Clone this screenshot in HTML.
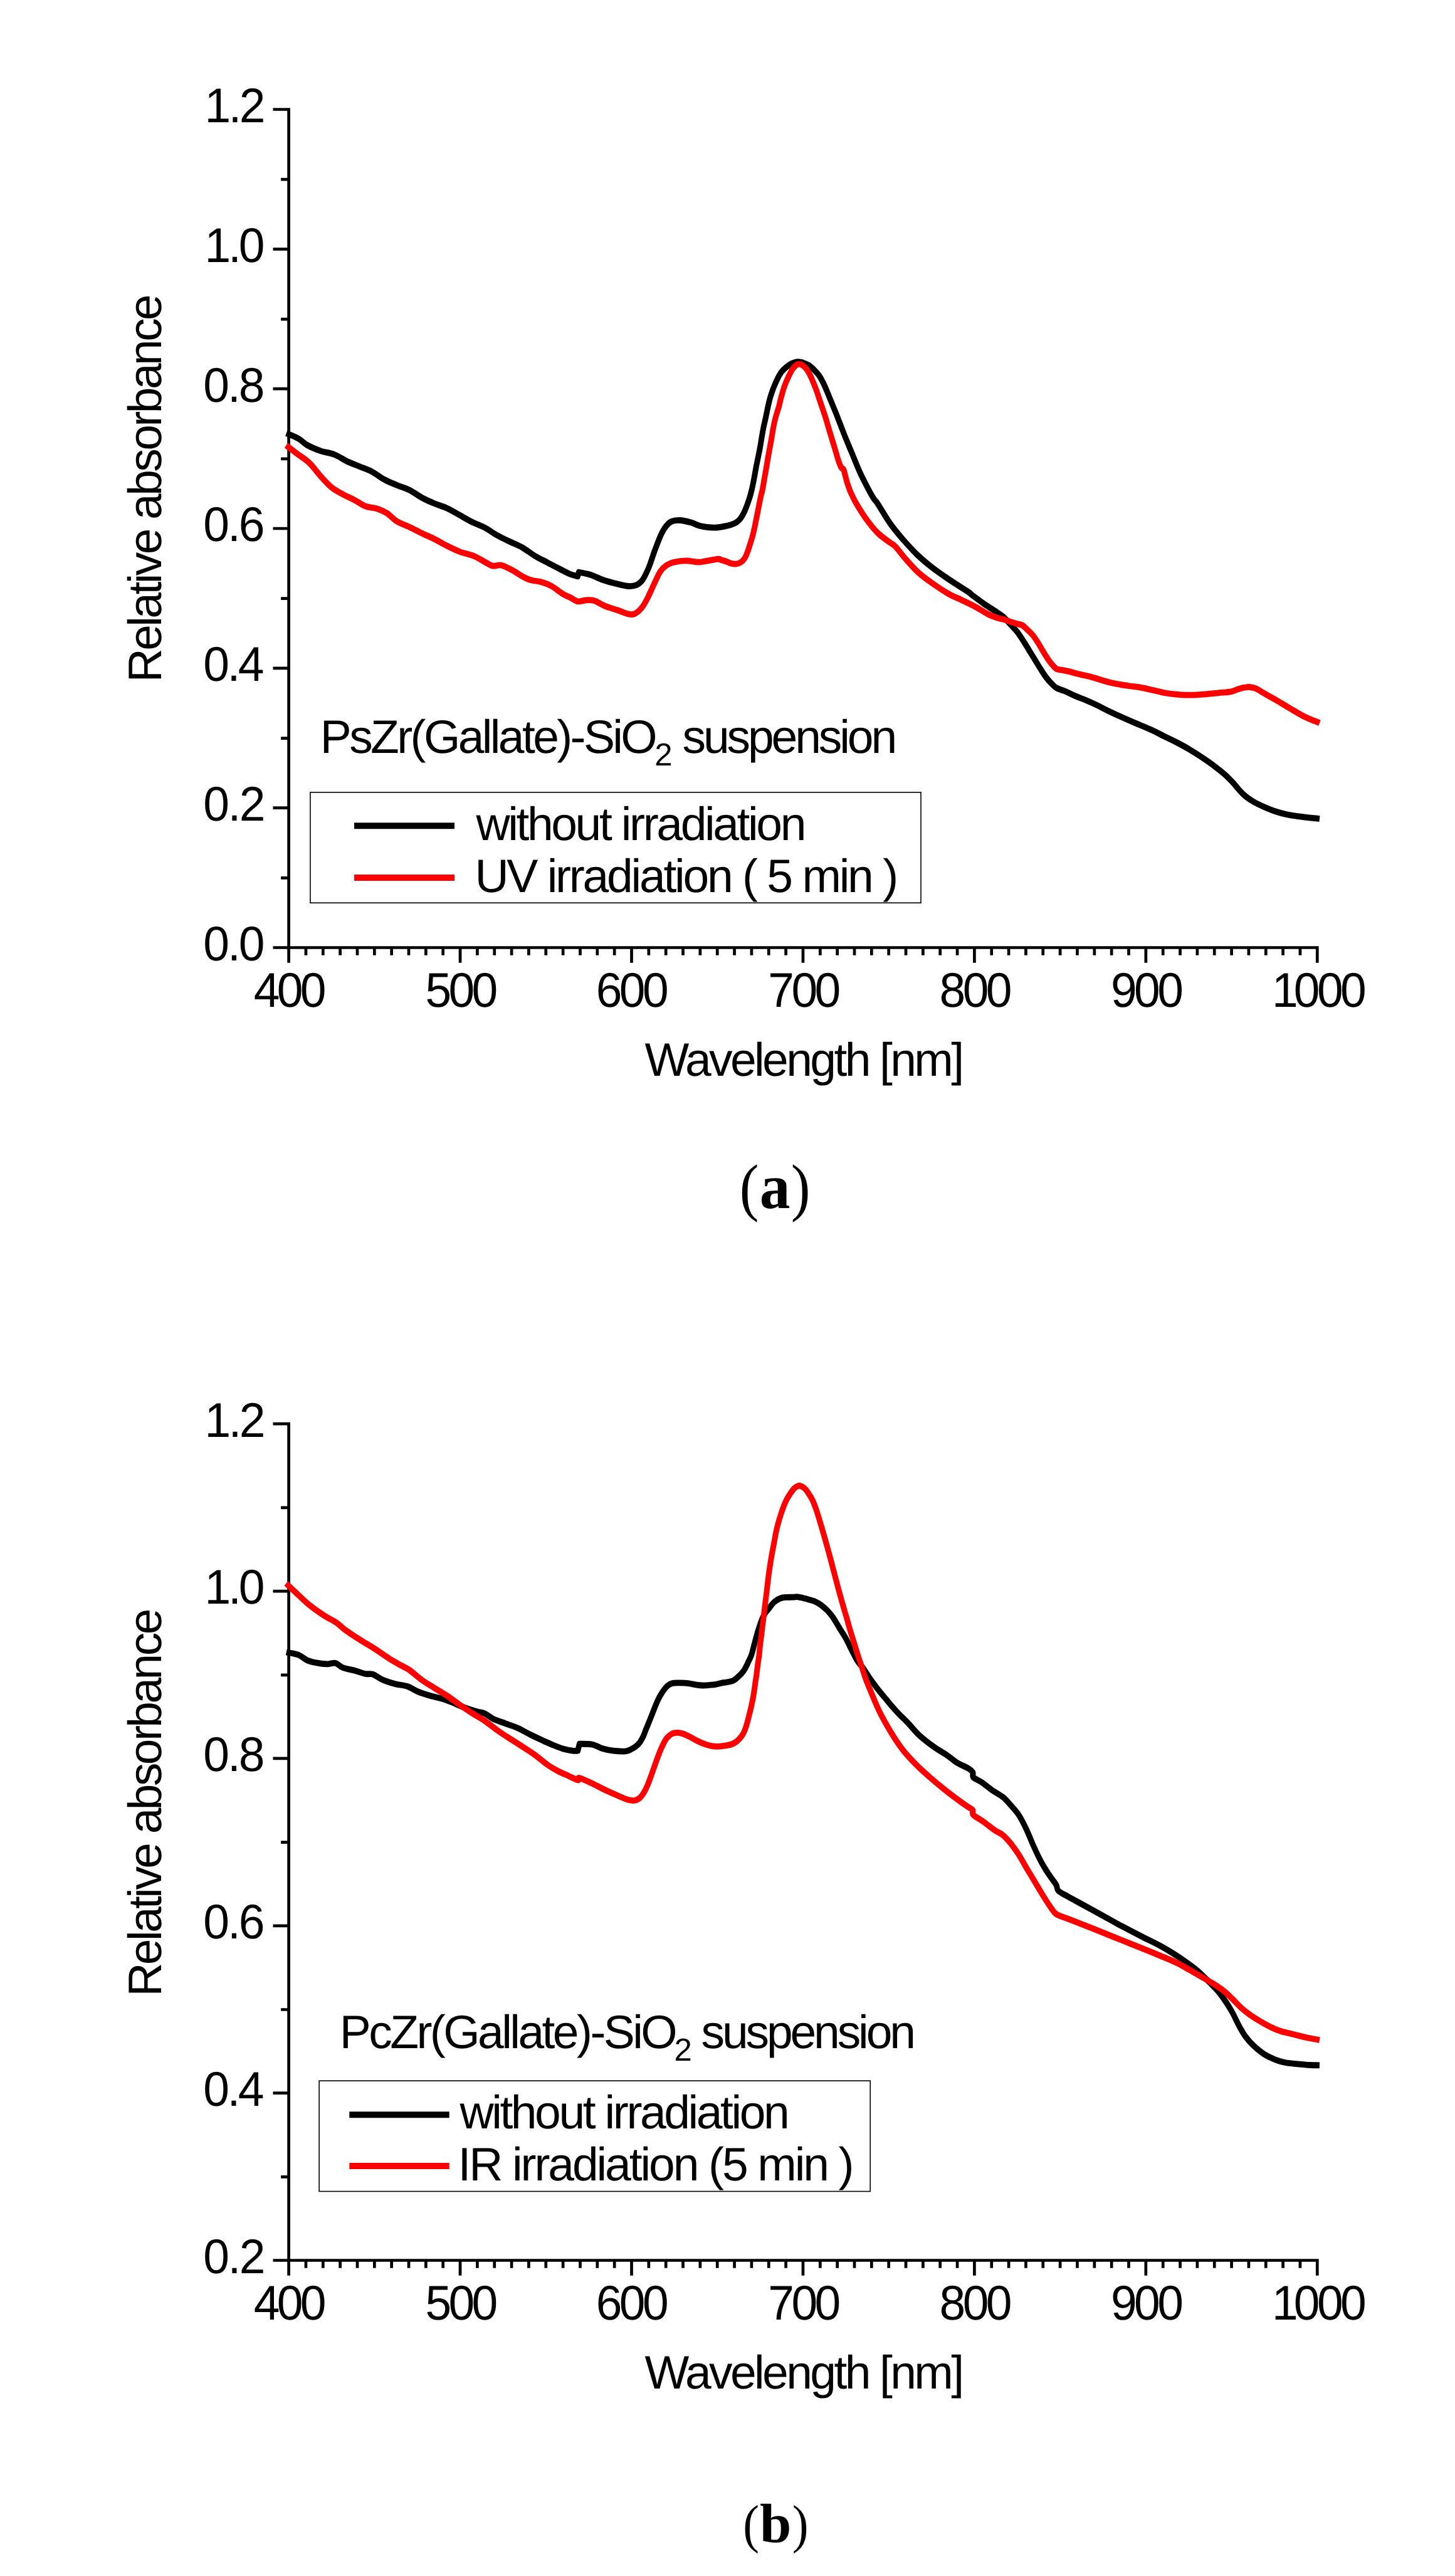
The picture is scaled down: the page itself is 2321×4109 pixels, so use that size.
<!DOCTYPE html>
<html lang="en"><head><meta charset="utf-8"><title>Relative absorbance spectra</title>
<style>
html,body{margin:0;padding:0;background:#fff}
svg{display:block}
text{font-family:"Liberation Sans",sans-serif;font-size:75px;fill:#000;white-space:pre;text-rendering:geometricPrecision}
</style></head><body>
<svg width="2321" height="4109" viewBox="0 0 2321 4109">
<rect width="2321" height="4109" fill="#fff"/>
<path d="M460.60 172.15V1535.80M435.50 1511.50H2103.65M435.50 174.50H460.60M448.10 286.22H460.60M435.50 397.33H460.60M448.10 509.05H460.60M435.50 620.17H460.60M448.10 731.88H460.60M435.50 843.00H460.60M448.10 954.72H460.60M435.50 1065.83H460.60M448.10 1177.55H460.60M435.50 1288.67H460.60M448.10 1400.38H460.60M487.95 1511.50V1523.80M515.29 1511.50V1523.80M542.63 1511.50V1523.80M569.98 1511.50V1523.80M597.33 1511.50V1523.80M624.67 1511.50V1523.80M652.02 1511.50V1523.80M679.36 1511.50V1523.80M706.71 1511.50V1523.80M734.05 1511.50V1535.80M761.40 1511.50V1523.80M788.74 1511.50V1523.80M816.09 1511.50V1523.80M843.43 1511.50V1523.80M870.78 1511.50V1523.80M898.12 1511.50V1523.80M925.47 1511.50V1523.80M952.81 1511.50V1523.80M980.16 1511.50V1523.80M1007.50 1511.50V1535.80M1034.85 1511.50V1523.80M1062.19 1511.50V1523.80M1089.54 1511.50V1523.80M1116.88 1511.50V1523.80M1144.23 1511.50V1523.80M1171.57 1511.50V1523.80M1198.91 1511.50V1523.80M1226.26 1511.50V1523.80M1253.61 1511.50V1523.80M1280.95 1511.50V1535.80M1308.30 1511.50V1523.80M1335.64 1511.50V1523.80M1362.99 1511.50V1523.80M1390.33 1511.50V1523.80M1417.68 1511.50V1523.80M1445.02 1511.50V1523.80M1472.37 1511.50V1523.80M1499.71 1511.50V1523.80M1527.06 1511.50V1523.80M1554.40 1511.50V1535.80M1581.75 1511.50V1523.80M1609.09 1511.50V1523.80M1636.44 1511.50V1523.80M1663.78 1511.50V1523.80M1691.12 1511.50V1523.80M1718.47 1511.50V1523.80M1745.82 1511.50V1523.80M1773.16 1511.50V1523.80M1800.51 1511.50V1523.80M1827.85 1511.50V1535.80M1855.20 1511.50V1523.80M1882.54 1511.50V1523.80M1909.89 1511.50V1523.80M1937.23 1511.50V1523.80M1964.58 1511.50V1523.80M1991.92 1511.50V1523.80M2019.27 1511.50V1523.80M2046.61 1511.50V1523.80M2073.96 1511.50V1523.80M2101.30 1511.50V1535.80" fill="none" stroke="#000" stroke-width="4.70"/>
<text id="ay0" transform="translate(326.60 194.90) scale(1 1.035)" style="letter-spacing:-3.700px">1.2</text>
<text id="ay1" transform="translate(326.60 417.73) scale(1 1.035)" style="letter-spacing:-4.200px">1.0</text>
<text id="ay2" transform="translate(324.20 640.57) scale(1 1.035)" style="letter-spacing:-3.000px">0.8</text>
<text id="ay3" transform="translate(324.20 863.40) scale(1 1.035)" style="letter-spacing:-3.000px">0.6</text>
<text id="ay4" transform="translate(324.20 1086.23) scale(1 1.035)" style="letter-spacing:-3.500px">0.4</text>
<text id="ay5" transform="translate(324.20 1309.07) scale(1 1.035)" style="letter-spacing:-2.500px">0.2</text>
<text id="ay6" transform="translate(324.20 1531.90) scale(1 1.035)" style="letter-spacing:-3.000px">0.0</text>
<text id="ax400" transform="translate(404.65 1606.00) scale(1 1.035)" style="letter-spacing:-4.600px">400</text>
<text id="ax500" transform="translate(678.40 1606.00) scale(1 1.035)" style="letter-spacing:-4.600px">500</text>
<text id="ax600" transform="translate(950.75 1606.00) scale(1 1.035)" style="letter-spacing:-4.600px">600</text>
<text id="ax700" transform="translate(1225.30 1606.00) scale(1 1.035)" style="letter-spacing:-4.600px">700</text>
<text id="ax800" transform="translate(1498.55 1606.00) scale(1 1.035)" style="letter-spacing:-4.600px">800</text>
<text id="ax900" transform="translate(1772.00 1606.00) scale(1 1.035)" style="letter-spacing:-4.600px">900</text>
<text id="ax1000" transform="translate(2028.95 1606.00) scale(1 1.035)" x="0.00 34.85 72.05 109.05" style="letter-spacing:0">1000</text>
<text id="axl" x="1028.60" y="1716.10" style="letter-spacing:-3.614px">Wavelength [nm]</text>
<text id="ayl" transform="translate(257.3 1088.40) rotate(-90)" style="letter-spacing:-3.589px">Relative absorbance</text>
<path transform="scale(0.918 1)" d="M497.6 690.9C501.2 692.4 513.3 696.8 519.3 700C525.3 703.2 527.4 706.8 533.8 710C540.1 713.2 549.5 716.8 557.4 719.3C565.3 721.8 573.4 722.3 580.9 725C588.5 727.7 595.5 732.5 602.7 735.7C610 738.9 617.2 741.2 624.5 744C631.8 746.8 639 748.8 646.3 752.3C653.6 755.8 660.8 761.4 668.1 765C675.3 768.6 682.6 771.2 689.9 774C697.1 776.8 704.4 778.4 711.7 781.7C718.9 785 726.2 790.4 733.4 794C740.7 797.6 748 800.5 755.2 803.3C762.5 806.1 769.8 807.6 777 810.7C784.3 813.8 791.5 818 798.8 821.7C806.1 825.4 813.3 829.4 820.6 832.7C827.9 836 835.1 838.2 842.4 841.7C849.6 845.2 856.9 850.3 864.2 854C871.4 857.7 878.7 860.8 885.9 864C893.2 867.2 900.5 869.5 907.7 873.3C915 877.1 922.3 882.7 929.5 886.7C936.8 890.7 944 893.8 951.3 897.3C958.6 900.8 966.4 904.6 973.1 907.7C979.8 910.8 986.2 914.1 991.3 916C996.4 917.9 1001.7 918.8 1003.8 919.3L1005.8 912.7C1009.1 913.4 1018.8 914.7 1025.8 916.7C1032.8 918.8 1040.3 922.7 1047.6 925C1054.9 927.3 1062.1 929 1069.4 930.7C1076.7 932.4 1085.1 934.6 1091.2 935C1097.2 935.4 1101.4 935 1105.7 933.3C1109.9 931.6 1112.9 929.7 1116.6 925C1120.2 920.3 1123.8 913 1127.5 905C1131.1 897 1134.7 885.6 1138.3 876.7C1142 867.8 1145.9 858.1 1149.2 851.7C1152.6 845.3 1155.2 841.6 1158.3 838.3C1161.3 835 1163.5 833.1 1167.4 831.7C1171.4 830.3 1176.5 829.7 1181.9 830C1187.4 830.3 1194.1 831.8 1200.1 833.3C1206.2 834.8 1211.5 837.9 1218.2 839.3C1224.8 840.7 1234.2 841.5 1240 841.7C1245.7 841.9 1249.1 841.1 1252.7 840.6C1256.3 840.1 1258.7 839.6 1261.7 839C1264.7 838.4 1267.7 837.9 1270.7 836.9C1273.7 835.9 1276.9 834.9 1279.6 833.2C1282.3 831.6 1284.6 829.7 1286.8 827C1289.1 824.3 1291.2 820.8 1293.1 817.1C1295.1 813.4 1296.9 808.8 1298.6 804.7C1300.2 800.6 1301.7 796.5 1303.1 792.4C1304.4 788.3 1305.5 784.6 1306.6 780C1307.8 775.4 1308.9 770.2 1310 765C1311.1 759.8 1312.1 754 1313.2 748.5C1314.3 743 1315.6 737.5 1316.8 732C1318 726.5 1319.3 721 1320.4 715.5C1321.5 710 1322.4 704.5 1323.4 699C1324.5 693.5 1325.4 688 1326.6 682.5C1327.8 677 1329.2 671.9 1330.6 666C1332 660.1 1333.7 652 1334.9 647C1336.1 642 1336.7 639.7 1337.8 636C1338.9 632.3 1340.2 628.7 1341.6 625C1343 621.3 1344.5 617.7 1346.2 614C1347.9 610.3 1349.8 606.4 1351.7 603C1353.6 599.6 1355.2 596.5 1357.6 593.6C1360 590.8 1363.1 588.1 1366 585.9C1368.9 583.7 1371.9 581.6 1374.9 580.2C1377.9 578.8 1381.5 577.8 1384 577.3C1386.5 576.8 1388 577 1390 577.3C1392 577.5 1393.4 577.9 1396 578.8C1398.5 579.7 1402.1 580.8 1405.2 582.6C1408.3 584.4 1411.5 587.1 1414.5 589.8C1417.4 592.4 1420.3 595.1 1422.9 598.5C1425.5 601.9 1427.7 605.5 1430.2 610C1432.6 614.5 1435.1 620.1 1437.6 625.4C1440 630.7 1442.4 636.3 1444.9 641.8C1447.3 647.2 1449.7 652.5 1452.2 658.1C1454.6 663.7 1457.1 669.7 1459.6 675.5C1462 681.3 1464.5 687.2 1466.9 692.8C1469.3 698.4 1471.7 703.6 1474.2 709.1C1476.6 714.6 1479.1 720 1481.6 725.5C1484 731 1486.5 736.6 1488.9 741.9C1491.3 747.2 1493.6 752.1 1496.2 757.2C1498.8 762.3 1501.8 767.6 1504.6 772.6C1507.4 777.6 1510.5 783.1 1513 787.1C1515.4 791.1 1517.3 794 1519.3 796.7C1521.3 799.4 1520.5 796.9 1525.1 803.3C1529.6 809.7 1539.6 825.5 1546.8 835C1554.1 844.5 1560.8 851.7 1568.6 860C1576.5 868.3 1585.5 877.5 1594 885C1602.5 892.5 1610.4 898.5 1619.5 905C1628.6 911.5 1638.2 917.6 1648.5 924C1658.8 930.4 1674.2 939 1681.2 943.3C1688.1 947.6 1685.5 946.7 1690.3 950C1695.2 953.3 1703.3 958.9 1710.2 963.3C1717.2 967.7 1726.4 973 1732 976.5C1737.7 980 1740 980.9 1744 984.2C1748 987.5 1752 992.3 1756 996.3C1760 1000.3 1764 1003.6 1768 1008.4C1772 1013.2 1776.4 1019.8 1780 1024.9C1783.6 1030 1786.3 1034.4 1789.5 1039.2C1792.7 1044 1795.9 1048.7 1799.1 1053.5C1802.3 1058.3 1805.5 1063.2 1808.7 1067.8C1811.9 1072.4 1815.1 1077.2 1818.3 1081C1821.5 1084.8 1824.9 1088.2 1827.9 1090.9C1830.9 1093.7 1832.3 1095.5 1836.3 1097.5C1840.3 1099.5 1846.3 1100.8 1851.9 1103C1857.4 1105.2 1863.8 1108.2 1869.8 1110.6C1875.8 1113 1881.7 1114.8 1887.8 1117.2C1893.9 1119.6 1899.6 1121.9 1906.3 1124.9C1913 1127.9 1918.4 1130.8 1928.1 1135C1937.8 1139.2 1952.3 1145.1 1964.4 1150C1976.5 1154.9 1991.1 1160.2 2000.8 1164.3C2010.5 1168.3 2015.3 1171 2022.5 1174.3C2029.8 1177.6 2037.1 1180.5 2044.3 1184C2051.6 1187.5 2058.9 1191 2066.1 1195C2073.4 1199 2080.6 1203.2 2087.9 1207.7C2095.2 1212.2 2103.1 1217.2 2109.7 1221.7C2116.3 1226.2 2122.3 1230.6 2127.8 1235C2133.2 1239.4 2138.1 1244.1 2142.4 1248.3C2146.6 1252.5 2149.6 1256.4 2153.3 1260C2156.9 1263.6 2159.9 1266.8 2164.2 1270C2168.4 1273.2 2173.2 1276.1 2178.6 1279C2184.1 1281.9 2190.2 1284.6 2196.8 1287.3C2203.5 1290 2211.4 1292.9 2218.6 1295C2225.9 1297.1 2232.6 1298.6 2240.4 1300C2248.3 1301.4 2257 1302.3 2265.8 1303.3C2274.6 1304.3 2288.5 1305.5 2293 1306" fill="none" stroke="#000" stroke-width="9.80" stroke-linejoin="round"/>
<path transform="scale(0.918 1)" d="M497.3 710.3C500.3 712.5 508.9 718.6 515.6 723.3C522.3 728 530.1 731.9 537.4 738.3C544.6 744.7 552.5 755 559.2 761.7C565.8 768.4 571.3 773.9 577.3 778.3C583.4 782.7 588.9 785 595.5 788.3C602.2 791.6 610.7 795.1 617.3 798.3C624 801.5 629.4 805.6 635.4 807.7C641.4 809.8 647.5 809.2 653.6 811C659.7 812.8 665.7 814.8 671.8 818.3C677.8 821.8 683.2 828 689.9 831.7C696.5 835.4 704.4 837.5 711.7 840.7C718.9 843.9 726.2 847.5 733.4 850.7C740.7 853.9 748 856.7 755.2 860C762.5 863.3 769.8 867.4 777 870.7C784.3 874 790.9 877.2 798.8 880C806.7 882.8 816.4 884.2 824.3 887.3C832.2 890.3 840.6 895.7 846.1 898.3C851.5 900.9 852.7 902.1 857 902.7C861.2 903.3 866 900.6 871.5 901.7C876.9 902.8 883.6 906.4 889.7 909.3C895.7 912.2 902.3 916.6 907.7 919.3C913.2 922 916.9 923.8 922.3 925.3C927.8 926.8 934.4 926.7 940.4 928.3C946.5 929.9 952.5 931.9 958.6 935C964.7 938.1 971.4 943.7 976.8 946.7C982.2 949.8 986.7 951.2 991.3 953.3C995.8 955.4 999.5 958.6 1004 959.3C1008.6 960 1013.7 957.5 1018.5 957.3C1023.3 957.1 1027.6 956.7 1033 958.3C1038.5 959.9 1044.5 964.2 1051.2 966.7C1057.9 969.2 1066.3 971.2 1073 973.3C1079.6 975.4 1086.3 978.3 1091.2 979.3C1096 980.3 1098.1 980.8 1102.1 979.3C1106 977.8 1110.8 974.3 1114.7 970C1118.6 965.7 1122 959.7 1125.6 953.3C1129.2 946.9 1132.9 938.6 1136.5 931.7C1140.1 924.8 1143.8 916.7 1147.4 911.7C1151 906.7 1154.3 904.2 1158.3 901.7C1162.2 899.2 1165.3 897.9 1171 896.7C1176.8 895.5 1185.5 894.3 1192.8 894.3C1200.1 894.3 1207.3 896.9 1214.6 896.7C1221.9 896.5 1230.6 894.1 1236.4 893.3C1242.1 892.5 1246.4 891.8 1249.1 891.7C1251.9 891.7 1250.6 892.4 1252.7 893C1254.8 893.6 1258.7 894.5 1261.7 895.5C1264.7 896.5 1267.8 898.1 1270.7 898.8C1273.5 899.5 1276.1 899.9 1278.8 899.6C1281.4 899.3 1284.3 898.6 1286.8 897.1C1289.4 895.6 1291.9 893.5 1294 890.5C1296.1 887.5 1297.8 883 1299.5 879C1301.1 875 1302.5 870.7 1303.9 866.6C1305.3 862.5 1306.8 858.3 1308 854.2C1309.2 850.1 1310.1 846 1311.1 841.9C1312.1 837.8 1312.9 833.6 1313.8 829.5C1314.7 825.4 1315.7 821.2 1316.6 817.1C1317.4 813 1318.3 808.8 1319.2 804.7C1320.1 800.6 1321 796.3 1321.9 792.4C1322.8 788.5 1323.8 786 1324.8 781.4C1325.9 776.8 1326.9 770.5 1328 765C1329 759.5 1330.1 754 1331.2 748.5C1332.2 743 1333.2 737.5 1334.2 732C1335.2 726.5 1336.3 721 1337.4 715.5C1338.5 710 1339.7 704.5 1340.7 699C1341.8 693.5 1342.5 688 1343.7 682.5C1344.8 677 1346.1 671.5 1347.7 666C1349.3 660.5 1351.5 655 1353.2 649.5C1354.8 644 1356 638.5 1357.6 633C1359.3 627.5 1360.8 622 1363 616.5C1365.1 611 1368 604.9 1370.6 600C1373.2 595.1 1375.6 590.2 1378.5 587C1381.5 583.8 1384.9 580.9 1388.2 580.7C1391.6 580.5 1395.8 583.5 1398.8 586C1401.8 588.5 1403.8 591.9 1406.1 595.6C1408.4 599.3 1410.3 603.6 1412.4 608.1C1414.5 612.6 1416.7 617.7 1418.6 622.5C1420.5 627.3 1422.1 632.2 1423.9 637C1425.6 641.8 1427.4 646.6 1429.2 651.4C1431 656.2 1432.8 661 1434.4 665.8C1436.1 670.6 1437.5 675.5 1439.1 680.3C1440.7 685.1 1442.2 689.9 1443.8 694.7C1445.4 699.5 1447 704.3 1448.6 709.1C1450.2 713.9 1451.8 719.1 1453.3 723.6C1454.7 728.1 1456 732.4 1457.4 736.1C1458.8 739.8 1460.3 743.6 1461.7 745.7C1463.1 747.8 1464.7 746.7 1465.8 748.6C1466.9 750.5 1467.4 753.7 1468.4 757.2C1469.5 760.7 1470.8 765.8 1472.1 769.8C1473.4 773.8 1474.8 777.6 1476.4 781.3C1477.9 785 1480 788.8 1481.6 791.9C1483.2 795 1483.9 796.6 1485.7 799.6C1487.5 802.6 1488.9 804.9 1492.4 810C1495.9 815.1 1501.4 823.3 1506.9 830C1512.3 836.7 1519 844.5 1525.1 850C1531.1 855.5 1538.1 859.7 1543.2 863.3C1548.4 866.9 1551.1 867.2 1555.9 871.7C1560.7 876.2 1565.9 883.3 1572.2 890C1578.6 896.7 1586.1 905 1594 911.7C1601.9 918.4 1610.4 924.1 1619.5 930C1628.6 935.9 1640 942.8 1648.5 947.3C1656.9 951.8 1662.4 953.2 1670.3 956.7C1678.1 960.2 1687.9 964.4 1695.8 968.3C1703.6 972.2 1711.5 977.2 1717.5 980C1723.6 982.8 1727.6 984 1732 985.3C1736.4 986.6 1740 986.9 1744 988C1748 989.1 1752 990.7 1756 991.9C1760 993.1 1764.6 994.3 1768 995.2C1771.4 996.1 1773.6 995.9 1776.4 997.4C1779.2 998.9 1781.8 1001.4 1784.7 1004C1787.7 1006.6 1791.3 1009.5 1794.3 1012.8C1797.3 1016.1 1800.1 1020.1 1802.7 1023.8C1805.3 1027.5 1807.5 1031.1 1809.9 1034.8C1812.3 1038.5 1814.7 1042.3 1817.1 1045.8C1819.5 1049.3 1821.9 1052.8 1824.3 1055.7C1826.7 1058.6 1829.5 1061.5 1831.5 1063.4C1833.5 1065.3 1833.9 1066.3 1836.3 1067.2C1838.7 1068.1 1842.3 1068.2 1845.9 1068.9C1849.5 1069.6 1852.9 1070 1857.8 1071.1C1862.8 1072.2 1869.8 1074.1 1875.8 1075.5C1881.8 1076.9 1888.7 1078.1 1893.8 1079.3C1898.9 1080.5 1900 1080.9 1906.3 1082.6C1912.6 1084.3 1922.6 1087.4 1931.7 1089.3C1940.8 1091.2 1951.7 1092.7 1960.8 1094C1969.9 1095.3 1975.9 1095.5 1986.2 1097.3C1996.5 1099.1 2012.9 1103.3 2022.5 1105C2032.2 1106.7 2037.1 1107.1 2044.3 1107.7C2051.6 1108.3 2057.7 1108.8 2066.1 1108.7C2074.6 1108.6 2086.6 1107.9 2095.1 1107.3C2103.6 1106.7 2109.6 1106 2116.9 1105.3C2124.1 1104.6 2132.9 1104.3 2138.7 1103.3C2144.4 1102.3 2147.5 1100.4 2151.4 1099.3C2155.4 1098.2 2159 1097.2 2162.3 1096.7C2165.6 1096.2 2168 1095.7 2171.4 1096C2174.7 1096.3 2178 1096.6 2182.2 1098.3C2186.5 1100 2190.8 1102.8 2196.8 1106C2202.9 1109.2 2211.4 1113.4 2218.6 1117.3C2225.9 1121.2 2232.6 1125.1 2240.4 1129.3C2248.3 1133.5 2257 1138.7 2265.8 1142.7C2274.6 1146.7 2288.5 1151.5 2293 1153.3" fill="none" stroke="#f00" stroke-width="9.80" stroke-linejoin="round"/>
<text id="at1" x="510.80" y="1200.80" style="letter-spacing:-3.625px">PsZr(Gallate)-SiO</text><text id="at2" x="1044.30" y="1220.80" style="letter-spacing:0.000px;font-size:51px">2</text> <text id="at3" x="1088.60" y="1200.80" style="letter-spacing:-4.100px">suspension</text>
<rect x="494.95" y="1263.85" width="974.05" height="176.35" fill="none" stroke="#000" stroke-width="1.6"/>
<path d="M565.00 1317.30H725.00" stroke="#000" stroke-width="10"/>
<path d="M565.00 1400.00H725.00" stroke="#f00" stroke-width="10"/>
<text id="al1" x="759.40" y="1340.00" style="letter-spacing:-3.378px">without irradiation</text>
<text id="al2" x="757.40" y="1423.30" style="letter-spacing:-3.239px">UV irradiation ( 5 min )</text>
<path d="M460.60 2268.85V3629.80M435.50 3605.50H2103.65M435.50 2271.20H460.60M448.10 2404.93H460.60M435.50 2538.06H460.60M448.10 2671.79H460.60M435.50 2804.92H460.60M448.10 2938.65H460.60M435.50 3071.78H460.60M448.10 3205.51H460.60M435.50 3338.64H460.60M448.10 3472.37H460.60M487.95 3605.50V3617.80M515.29 3605.50V3617.80M542.63 3605.50V3617.80M569.98 3605.50V3617.80M597.33 3605.50V3617.80M624.67 3605.50V3617.80M652.02 3605.50V3617.80M679.36 3605.50V3617.80M706.71 3605.50V3617.80M734.05 3605.50V3629.80M761.40 3605.50V3617.80M788.74 3605.50V3617.80M816.09 3605.50V3617.80M843.43 3605.50V3617.80M870.78 3605.50V3617.80M898.12 3605.50V3617.80M925.47 3605.50V3617.80M952.81 3605.50V3617.80M980.16 3605.50V3617.80M1007.50 3605.50V3629.80M1034.85 3605.50V3617.80M1062.19 3605.50V3617.80M1089.54 3605.50V3617.80M1116.88 3605.50V3617.80M1144.23 3605.50V3617.80M1171.57 3605.50V3617.80M1198.91 3605.50V3617.80M1226.26 3605.50V3617.80M1253.61 3605.50V3617.80M1280.95 3605.50V3629.80M1308.30 3605.50V3617.80M1335.64 3605.50V3617.80M1362.99 3605.50V3617.80M1390.33 3605.50V3617.80M1417.68 3605.50V3617.80M1445.02 3605.50V3617.80M1472.37 3605.50V3617.80M1499.71 3605.50V3617.80M1527.06 3605.50V3617.80M1554.40 3605.50V3629.80M1581.75 3605.50V3617.80M1609.09 3605.50V3617.80M1636.44 3605.50V3617.80M1663.78 3605.50V3617.80M1691.12 3605.50V3617.80M1718.47 3605.50V3617.80M1745.82 3605.50V3617.80M1773.16 3605.50V3617.80M1800.51 3605.50V3617.80M1827.85 3605.50V3629.80M1855.20 3605.50V3617.80M1882.54 3605.50V3617.80M1909.89 3605.50V3617.80M1937.23 3605.50V3617.80M1964.58 3605.50V3617.80M1991.92 3605.50V3617.80M2019.27 3605.50V3617.80M2046.61 3605.50V3617.80M2073.96 3605.50V3617.80M2101.30 3605.50V3629.80" fill="none" stroke="#000" stroke-width="4.70"/>
<text id="by0" transform="translate(326.60 2291.60) scale(1 1.035)" style="letter-spacing:-3.700px">1.2</text>
<text id="by1" transform="translate(326.60 2558.46) scale(1 1.035)" style="letter-spacing:-4.200px">1.0</text>
<text id="by2" transform="translate(324.20 2825.32) scale(1 1.035)" style="letter-spacing:-3.000px">0.8</text>
<text id="by3" transform="translate(324.20 3092.18) scale(1 1.035)" style="letter-spacing:-3.000px">0.6</text>
<text id="by4" transform="translate(324.20 3359.04) scale(1 1.035)" style="letter-spacing:-3.500px">0.4</text>
<text id="by5" transform="translate(324.20 3625.90) scale(1 1.035)" style="letter-spacing:-2.500px">0.2</text>
<text id="bx400" transform="translate(404.65 3700.00) scale(1 1.035)" style="letter-spacing:-4.600px">400</text>
<text id="bx500" transform="translate(678.40 3700.00) scale(1 1.035)" style="letter-spacing:-4.600px">500</text>
<text id="bx600" transform="translate(950.75 3700.00) scale(1 1.035)" style="letter-spacing:-4.600px">600</text>
<text id="bx700" transform="translate(1225.30 3700.00) scale(1 1.035)" style="letter-spacing:-4.600px">700</text>
<text id="bx800" transform="translate(1498.55 3700.00) scale(1 1.035)" style="letter-spacing:-4.600px">800</text>
<text id="bx900" transform="translate(1772.00 3700.00) scale(1 1.035)" style="letter-spacing:-4.600px">900</text>
<text id="bx1000" transform="translate(2028.95 3700.00) scale(1 1.035)" x="0.00 34.85 72.05 109.05" style="letter-spacing:0">1000</text>
<text id="bxl" x="1028.60" y="3810.00" style="letter-spacing:-3.614px">Wavelength [nm]</text>
<text id="byl" transform="translate(257.3 3184.80) rotate(-90)" style="letter-spacing:-3.589px">Relative absorbance</text>
<path transform="scale(0.918 1)" d="M497.6 2635.4C501.2 2636.2 513.3 2637.8 519.3 2640C525.3 2642.2 528.3 2646.2 533.8 2648.3C539.2 2650.4 545.9 2651.7 552 2652.7C558 2653.7 564.9 2654.3 570 2654.3C575.2 2654.3 578.5 2651.8 582.8 2652.7C587 2653.6 589.8 2657.9 595.5 2660C601.3 2662.1 610.7 2663.3 617.3 2665C624 2666.7 630.3 2669.1 635.4 2670C640.5 2670.9 643.3 2669.1 648.1 2670.7C653 2672.2 658.1 2676.8 664.5 2679.3C670.8 2681.9 679 2684.2 686.3 2686C693.5 2687.8 701.4 2687.9 708.1 2690C714.7 2692.1 719.6 2695.8 726.3 2698.3C732.9 2700.8 740.8 2703.1 748 2705C755.3 2706.9 763.8 2708.3 769.8 2710C775.9 2711.7 778.3 2712.8 784.3 2715C790.4 2717.2 798.8 2720.8 806.1 2723.3C813.4 2725.8 821.8 2728.3 827.9 2730C833.9 2731.7 837.5 2731.4 842.4 2733.3C847.2 2735.2 850.9 2739 857 2741.7C863 2744.4 871.5 2746.8 878.8 2749.3C886 2751.8 893.3 2753.7 900.5 2756.7C907.8 2759.7 915.1 2764 922.3 2767.3C929.6 2770.6 937.5 2773.9 944.1 2776.7C950.8 2779.5 956.2 2781.8 962.2 2784C968.2 2786.2 974.9 2788.6 980.4 2790C985.8 2791.4 990.9 2792.2 994.9 2792.7C998.8 2793.1 1002.5 2792.7 1004 2792.7L1006.9 2781.7C1010.6 2781.9 1022.6 2781.4 1029.4 2782.7C1036.2 2784 1041.6 2787.6 1047.6 2789.3C1053.6 2791 1059 2792 1065.7 2792.7C1072.3 2793.4 1082.3 2793.7 1087.5 2793.3C1092.7 2792.9 1094 2791.5 1096.8 2790.3C1099.6 2789.1 1101.8 2788 1104.2 2786.2C1106.7 2784.4 1109.5 2782.1 1111.8 2779.3C1114 2776.6 1116 2773 1117.8 2769.7C1119.5 2766.4 1120.7 2762.8 1122.2 2759.3C1123.7 2755.9 1125.3 2752.4 1126.8 2749C1128.3 2745.6 1129.8 2742.1 1131.3 2738.7C1132.8 2735.3 1134.2 2731.8 1135.7 2728.4C1137.2 2725 1138.6 2721.5 1140.2 2718.1C1141.8 2714.7 1143.4 2711.2 1145.4 2707.8C1147.4 2704.4 1149.8 2700.6 1152.2 2697.5C1154.6 2694.4 1157.1 2691.3 1159.7 2689.2C1162.3 2687.1 1164.7 2685.9 1168 2685.1C1171.2 2684.3 1175.5 2684.5 1179.2 2684.4C1182.9 2684.3 1187.2 2684.4 1190.4 2684.6C1193.6 2684.8 1194.9 2685 1198.3 2685.5C1201.7 2686 1206.9 2687.1 1210.8 2687.6C1214.7 2688.1 1218 2688.4 1221.6 2688.5C1225.2 2688.6 1228.8 2688.2 1232.4 2687.9C1235.9 2687.6 1239.5 2687.4 1243.1 2686.8C1246.7 2686.2 1250.3 2685.2 1253.9 2684.6C1257.5 2684 1261.3 2683.7 1264.7 2683C1268.1 2682.3 1271.4 2682.2 1274.5 2680.7C1277.6 2679.2 1280.9 2676.2 1283.4 2674.1C1286 2672 1287.9 2670 1289.8 2668C1291.6 2666 1292.7 2664.8 1294.4 2662C1296.2 2659.2 1298.5 2654.7 1300.3 2651C1302.2 2647.3 1304.1 2644.2 1305.7 2640C1307.3 2635.8 1308.5 2630.7 1309.9 2625.8C1311.3 2620.9 1312.7 2615.7 1314.3 2610.6C1315.8 2605.5 1317.4 2600.5 1319.3 2595.5C1321.1 2590.5 1323.5 2584.2 1325.3 2580.4C1327.1 2576.6 1328.3 2574.9 1330.1 2572.5C1331.9 2570.1 1334.1 2568 1336.1 2565.7C1338.1 2563.4 1340.1 2560.6 1342 2558.6C1344 2556.6 1346 2555 1348 2553.6C1350 2552.2 1352 2551.2 1354 2550.3C1356 2549.4 1358 2548.8 1360 2548.4C1362 2548 1363 2548 1366 2547.9C1369 2547.8 1374.5 2547.7 1378 2547.6C1381.5 2547.5 1383.9 2547 1386.9 2547.3C1389.9 2547.6 1392.9 2548.5 1396 2549.2C1399 2549.9 1402.1 2550.6 1405.2 2551.4C1408.4 2552.2 1411.2 2552.6 1414.8 2554.1C1418.4 2555.6 1423.1 2557.8 1426.9 2560.3C1430.7 2562.8 1434.3 2565.8 1437.7 2569C1441.1 2572.2 1443.6 2574.8 1447.2 2579.5C1450.7 2584.2 1455.3 2591.9 1458.9 2597.3C1462.6 2602.8 1465.7 2606.6 1469.1 2612.2C1472.5 2617.8 1475.9 2624.8 1479.3 2630.8C1482.7 2636.9 1486.1 2643.5 1489.4 2648.5C1492.8 2653.5 1496.2 2656.2 1499.6 2660.6C1502.9 2664.9 1506.3 2670.1 1509.7 2674.6C1513.1 2679.1 1516.4 2683.4 1519.8 2687.6C1523.2 2691.8 1526.6 2695.9 1530 2699.8C1533.4 2703.7 1536.8 2707.2 1540.2 2710.9C1543.6 2714.6 1546.9 2718.5 1550.3 2722.1C1553.7 2725.7 1557.1 2729.1 1560.5 2732.4C1563.8 2735.7 1567.4 2738.8 1570.6 2741.7C1573.8 2744.6 1575 2745.7 1579.5 2750.1C1584 2754.5 1590.5 2762.2 1597.7 2768.3C1605 2774.4 1615.2 2781.5 1623.1 2786.7C1631 2791.9 1638.2 2795.1 1644.9 2799.3C1651.5 2803.5 1657 2808.2 1663.1 2811.7C1669.1 2815.1 1676.6 2817.5 1681.2 2820C1685.7 2822.5 1688.6 2824.2 1690.3 2826.7C1692 2829.2 1688.7 2832.2 1691.4 2835C1694.1 2837.8 1701.1 2839.8 1706.6 2843.3C1712.2 2846.8 1718.7 2852.1 1724.7 2856C1730.8 2859.9 1737.5 2862.6 1742.9 2866.7C1748.4 2870.8 1752.9 2876 1757.4 2880.7C1761.9 2885.4 1765.9 2889 1770.2 2895C1774.4 2901 1779 2909.2 1782.9 2916.7C1786.8 2924.2 1790.2 2932.5 1793.8 2940C1797.4 2947.5 1801.1 2955 1804.7 2961.7C1808.3 2968.4 1811.9 2974.4 1815.6 2980C1819.2 2985.6 1823.1 2990.6 1826.5 2995C1829.8 2999.4 1833.4 3003.2 1835.5 3006.7C1837.6 3010.2 1835.8 3012.9 1839.1 3016C1842.4 3019.1 1849.1 3021.7 1855.4 3025C1861.8 3028.3 1867.5 3031.1 1877.2 3036C1886.9 3040.9 1901.5 3048.2 1913.6 3054.3C1925.7 3060.4 1937.8 3066.8 1949.9 3072.7C1962 3078.6 1975.3 3084.9 1986.2 3090C1997.1 3095.1 2006.8 3099.1 2015.3 3103.3C2023.7 3107.5 2029.8 3110.8 2037 3115C2044.3 3119.2 2051.6 3123.6 2058.8 3128.3C2066.1 3133 2073.9 3138.1 2080.6 3143.3C2087.3 3148.5 2092.8 3153.7 2098.8 3159.3C2104.8 3164.9 2111.4 3170.8 2116.9 3176.7C2122.3 3182.6 2127.2 3189.2 2131.5 3195C2135.7 3200.8 2138.7 3205.6 2142.4 3211.7C2146 3217.8 2149.6 3225.6 2153.3 3231.7C2156.9 3237.8 2159.9 3243 2164.2 3248.3C2168.4 3253.6 2173.2 3258.6 2178.6 3263.3C2184.1 3268 2190.8 3273.1 2196.8 3276.7C2202.9 3280.3 2208.9 3282.8 2214.9 3285C2221 3287.2 2226.5 3288.8 2233.1 3290C2239.8 3291.2 2247.6 3291.6 2254.9 3292.3C2262.2 3293 2270.3 3293.7 2276.7 3294C2283 3294.3 2290.3 3294.2 2293 3294.3" fill="none" stroke="#000" stroke-width="9.80" stroke-linejoin="round"/>
<path transform="scale(0.918 1)" d="M497.3 2525.6C500.3 2528.3 508.9 2536 515.6 2541.7C522.3 2547.4 529.5 2554.2 537.4 2560C545.2 2565.8 555 2572 562.9 2576.7C570.7 2581.4 578.6 2584.5 584.6 2588.3C590.7 2592.1 592.5 2594.9 599.1 2599.3C605.8 2603.8 616 2610 624.5 2615C633 2620 641.5 2624.3 650 2629.3C658.5 2634.3 667.5 2640.4 675.4 2645C683.2 2649.6 691.1 2653.5 697.2 2656.7C703.2 2659.9 705.6 2660.1 711.7 2664C717.7 2667.9 726.2 2675.2 733.4 2680C740.7 2684.8 748 2688.5 755.2 2692.7C762.5 2696.9 769.8 2700.6 777 2705C784.3 2709.4 791.5 2714.7 798.8 2719.3C806.1 2723.9 813.3 2728.4 820.6 2732.7C827.9 2737 835.1 2740.4 842.4 2745C849.6 2749.6 856.9 2755.3 864.2 2760C871.4 2764.7 878.7 2769 885.9 2773.3C893.2 2777.6 900.5 2781.7 907.7 2786C915 2790.3 922.3 2794.5 929.5 2799.3C936.8 2804.1 944.6 2810.7 951.3 2815C958 2819.3 963.4 2822.1 969.5 2825C975.6 2827.9 981.9 2830.3 987.7 2832.7C993.4 2835.1 1000.8 2838.8 1004 2839.3C1007.2 2839.9 1002.6 2835.1 1006.9 2836C1011.1 2836.9 1022 2841.8 1029.4 2845C1036.8 2848.2 1043.9 2851.8 1051.2 2855C1058.5 2858.2 1066.3 2861.4 1073 2864C1079.6 2866.6 1086 2869.4 1091.2 2870.7C1096.3 2872 1099.9 2872.6 1103.8 2871.7C1107.7 2870.8 1111.1 2869.2 1114.7 2865C1118.3 2860.8 1121 2856.9 1125.6 2846.7C1130.2 2836.5 1138.5 2813.8 1142.5 2803.9C1146.5 2794 1147.1 2792.6 1149.7 2787.5C1152.3 2782.4 1155.1 2776.9 1158.1 2773.2C1161.1 2769.5 1164.5 2767.1 1167.6 2765.5C1170.8 2763.9 1174 2763.8 1177.2 2763.8C1180.4 2763.8 1183.2 2764.4 1186.8 2765.5C1190.4 2766.6 1194.8 2768.6 1198.8 2770.4C1202.8 2772.2 1206.8 2774.7 1210.8 2776.5C1214.8 2778.3 1218.8 2780 1222.8 2781.4C1226.8 2782.8 1230.8 2784 1234.7 2784.7C1238.7 2785.4 1242.7 2785.8 1246.7 2785.8C1250.7 2785.8 1254.7 2785.2 1258.7 2784.7C1262.7 2784.1 1267.1 2783.7 1270.7 2782.5C1274.3 2781.3 1277.5 2779.7 1280.5 2777.5C1283.5 2775.3 1286.7 2771.9 1288.9 2769.2C1291.1 2766.4 1292.2 2764.2 1293.7 2761C1295.2 2757.8 1296.6 2753.7 1297.8 2750C1299 2746.3 1299.9 2742.7 1300.9 2739C1301.9 2735.3 1303 2731.7 1303.9 2728C1304.9 2724.3 1305.8 2720.7 1306.6 2717C1307.5 2713.3 1308.3 2709.7 1309 2706C1309.7 2702.3 1310.3 2698.7 1310.9 2695C1311.5 2691.3 1311.9 2687.7 1312.5 2684C1313.1 2680.3 1313.8 2676.7 1314.4 2673C1314.9 2669.3 1315.3 2665.7 1315.8 2662C1316.3 2658.3 1316.9 2654.7 1317.4 2651C1318 2647.3 1318.6 2644.2 1319.2 2640C1319.7 2635.8 1320 2630.7 1320.6 2625.8C1321.2 2620.9 1322 2615.9 1322.8 2610.6C1323.5 2605.3 1324.2 2599.3 1324.9 2594C1325.7 2588.7 1326.3 2584.2 1327 2579C1327.7 2573.8 1328.3 2568 1329 2563C1329.6 2558 1330.3 2553.4 1330.9 2549C1331.5 2544.6 1331.7 2542.9 1332.6 2536.5C1333.4 2530.1 1334.7 2519.2 1335.9 2510.8C1337.2 2502.4 1338.5 2494.3 1340 2486.1C1341.5 2477.8 1343.3 2469.6 1345 2461.3C1346.7 2453.1 1348.1 2444.8 1350.3 2436.6C1352.5 2428.4 1355.5 2419.1 1358.2 2411.9C1360.8 2404.7 1363.5 2398.5 1366.2 2393.3C1368.9 2388.1 1371.9 2384.2 1374.4 2380.9C1376.9 2377.6 1378.6 2375.3 1381 2373.5C1383.5 2371.7 1386.2 2369.8 1388.9 2369.8C1391.6 2369.8 1394.8 2371.7 1397.3 2373.5C1399.8 2375.3 1401.6 2377.6 1404 2380.9C1406.5 2384.2 1409.5 2388.1 1412.1 2393.3C1414.7 2398.5 1417.1 2404.7 1419.7 2411.9C1422.3 2419.1 1425.2 2428.4 1427.9 2436.6C1430.5 2444.8 1433.1 2453.1 1435.6 2461.3C1438.1 2469.6 1440.6 2477.8 1443 2486.1C1445.4 2494.3 1447.7 2502.6 1450.1 2510.8C1452.5 2519.1 1454.8 2527.4 1457.2 2535.6C1459.6 2543.8 1462.5 2553 1464.7 2560.2C1466.9 2567.4 1468.5 2572 1470.6 2578.6C1472.7 2585.2 1475 2593.2 1477.2 2600C1479.4 2606.8 1481.6 2613.1 1483.8 2619.6C1486 2626.1 1488.2 2632.8 1490.4 2639.2C1492.6 2645.6 1494.8 2651.4 1497.1 2657.8C1499.3 2664.2 1501.7 2671.2 1504.1 2677.4C1506.6 2683.6 1509.2 2689.2 1511.8 2695.1C1514.4 2701 1517 2706.9 1519.8 2712.8C1522.6 2718.7 1525.4 2724.8 1528.4 2730.5C1531.5 2736.2 1534.7 2741.7 1538.1 2747.3C1541.5 2752.9 1545.1 2758.4 1548.8 2764C1552.5 2769.6 1556.3 2775.4 1560.5 2780.8C1564.6 2786.2 1568 2790.7 1573.6 2796.7C1579.2 2802.7 1587 2810.3 1594 2816.7C1601 2823.1 1608.5 2829.2 1615.8 2835C1623.1 2840.8 1630.3 2846.3 1637.6 2851.7C1644.8 2857.1 1652.1 2862.3 1659.4 2867.3C1666.6 2872.3 1676 2878.4 1681.2 2881.7C1686.3 2885 1688.6 2885.1 1690.3 2887.3C1692 2889.5 1688.1 2891.8 1691.4 2895C1694.7 2898.2 1704.1 2902.6 1710.2 2906.7C1716.4 2910.8 1723 2915.9 1728.4 2919.3C1733.9 2922.7 1738.1 2923.6 1742.9 2927.3C1747.7 2931 1752.9 2936.5 1757.4 2941.7C1761.9 2946.9 1765.9 2952.2 1770.2 2958.3C1774.4 2964.4 1779 2972.2 1782.9 2978.3C1786.8 2984.4 1790.2 2989.4 1793.8 2995C1797.4 3000.6 1801.1 3006.1 1804.7 3011.7C1808.3 3017.2 1811.9 3023 1815.6 3028.3C1819.2 3033.6 1823.1 3039.1 1826.5 3043.3C1829.8 3047.5 1830.7 3050.4 1835.5 3053.3C1840.3 3056.2 1848.5 3058.2 1855.4 3060.7C1862.4 3063.2 1867.5 3064.8 1877.2 3068.3C1886.9 3071.8 1901.5 3077.2 1913.6 3081.7C1925.7 3086.1 1937.8 3090.6 1949.9 3095C1962 3099.4 1975.3 3104.2 1986.2 3108.3C1997.1 3112.4 2005.6 3115.6 2015.3 3119.3C2024.9 3123 2035.9 3127 2044.3 3130.7C2052.8 3134.4 2058.9 3137.9 2066.1 3141.7C2073.4 3145.5 2080.6 3149.4 2087.9 3153.3C2095.2 3157.2 2103.1 3161.1 2109.7 3165C2116.3 3168.9 2122.3 3172.6 2127.8 3176.7C2133.2 3180.8 2137.5 3185 2142.4 3189.3C2147.2 3193.6 2152 3198.7 2156.9 3202.7C2161.7 3206.7 2165.9 3209.8 2171.4 3213.3C2176.8 3216.9 2183.5 3220.7 2189.5 3224C2195.6 3227.3 2201.7 3230.6 2207.7 3233.3C2213.8 3236 2219.2 3238.1 2225.8 3240C2232.5 3241.9 2240.3 3243.3 2247.6 3245C2254.9 3246.7 2261.8 3248.5 2269.4 3250C2277 3251.5 2289.1 3253.3 2293 3254" fill="none" stroke="#f00" stroke-width="9.80" stroke-linejoin="round"/>
<text id="bt1" x="541.80" y="3266.70" style="letter-spacing:-3.563px">PcZr(Gallate)-SiO</text><text id="bt2" x="1075.50" y="3286.70" style="letter-spacing:0.000px;font-size:51px">2</text> <text id="bt3" x="1118.60" y="3266.70" style="letter-spacing:-4.122px">suspension</text>
<rect x="509.15" y="3319.10" width="879.05" height="176.40" fill="none" stroke="#000" stroke-width="1.6"/>
<path d="M557.30 3373.30H716.70" stroke="#000" stroke-width="10"/>
<path d="M557.30 3455.00H716.70" stroke="#f00" stroke-width="10"/>
<text id="bl1" x="733.40" y="3395.00" style="letter-spacing:-3.411px">without irradiation</text>
<text id="bl2" x="730.40" y="3478.30" style="letter-spacing:-3.091px">IR irradiation (5 min )</text>
<text id="capal" transform="translate(1179.85 1928.00) scale(0.905 1)" style="font-family:'Liberation Serif','DejaVu Serif',serif;letter-spacing:0;font-size:102.0px">(</text><text id="capam" transform="translate(1211.66 1927.40) scale(0.955 1)" style="font-family:'Liberation Serif','DejaVu Serif',serif;letter-spacing:0;font-size:102.0px;font-weight:bold">a</text><text id="capar" transform="translate(1261.80 1928.00) scale(0.905 1)" style="font-family:'Liberation Serif','DejaVu Serif',serif;letter-spacing:0;font-size:102.0px">)</text>
<text id="capbl" transform="translate(1185.20 4054.90) scale(0.907 1)" style="font-family:'Liberation Serif','DejaVu Serif',serif;letter-spacing:0;font-size:85.4px">(</text><text id="capbm" transform="translate(1211.95 4054.90) scale(1.025 1)" style="font-family:'Liberation Serif','DejaVu Serif',serif;letter-spacing:0;font-size:88.4px;font-weight:bold">b</text><text id="capbr" transform="translate(1263.70 4054.90) scale(0.907 1)" style="font-family:'Liberation Serif','DejaVu Serif',serif;letter-spacing:0;font-size:85.4px">)</text>
</svg>
</body></html>
